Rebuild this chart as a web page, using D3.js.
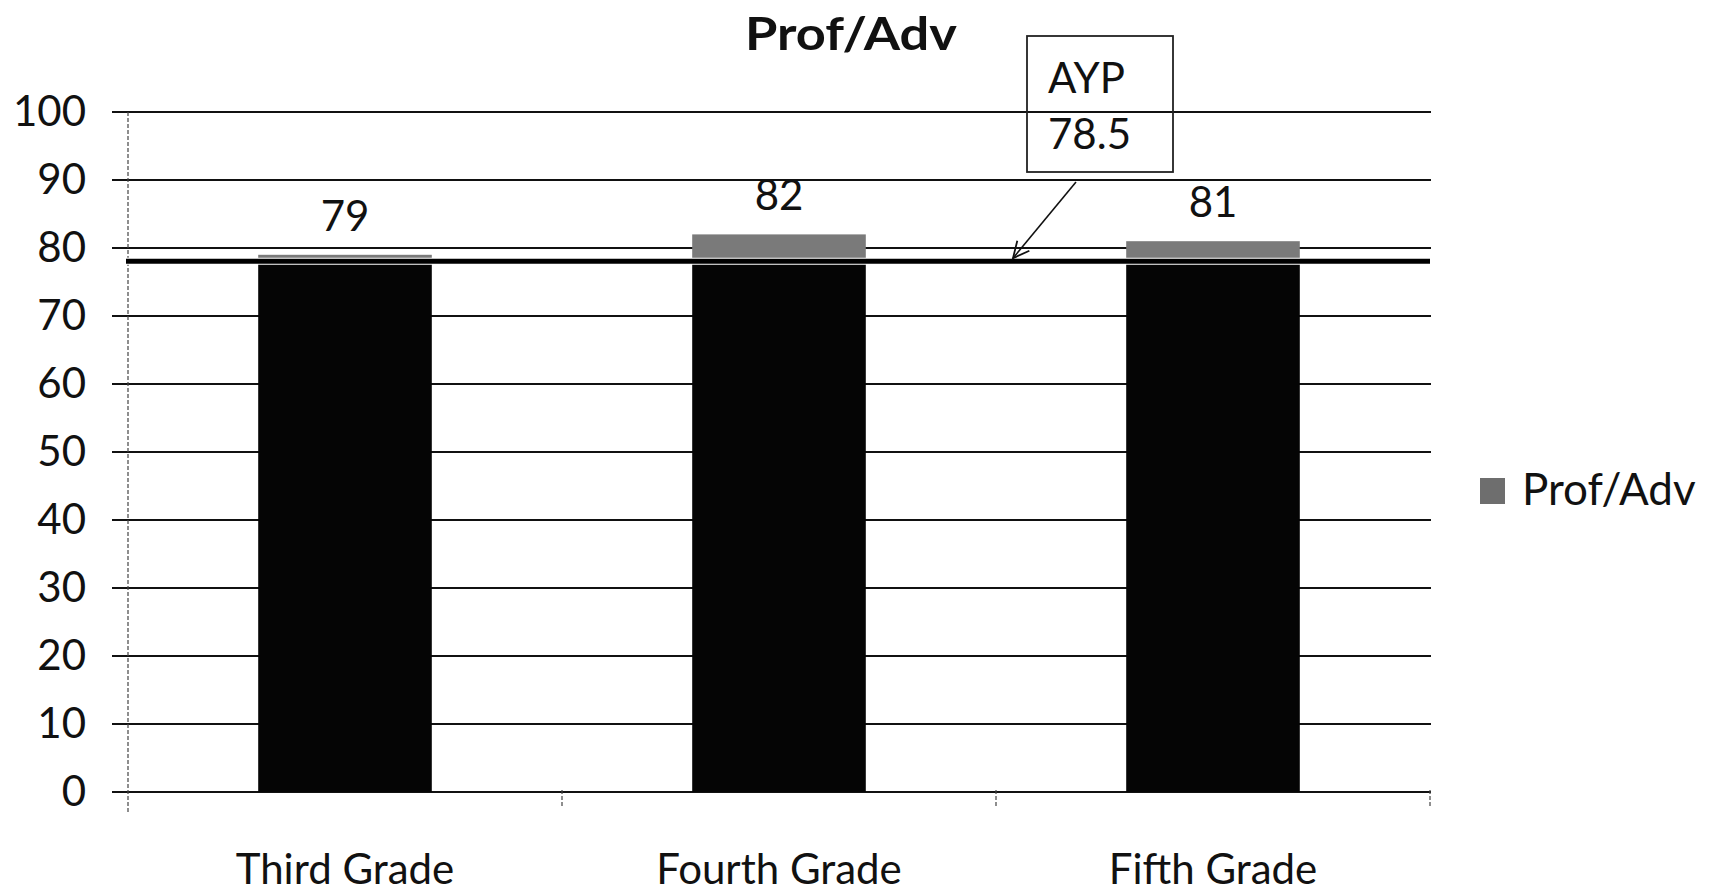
<!DOCTYPE html>
<html>
<head>
<meta charset="utf-8">
<script src="https://cdn.jsdelivr.net/npm/d3@7"></script>
<style>
  html, body { margin: 0; padding: 0; background: #fff; }
  svg { display: block; font-family: Lato, "Open Sans", sans-serif; }
</style>
</head>
<body>
<svg id="chart" width="1710" height="893"></svg>
<script>
// ---- data ----
const categories = ["Third Grade", "Fourth Grade", "Fifth Grade"];
const profAdv = [79, 82, 81];
const yTicks = [0, 10, 20, 30, 40, 50, 60, 70, 80, 90, 100];
const aypValue = 78.5;
const aypLabel = ["AYP", "78.5"];
const seriesName = "Prof/Adv";
const chartTitle = "Prof/Adv";

// ---- layout ----
const svg = d3.select("#chart");
const plot = { left: 128, right: 1430, top: 112, bottom: 792 };

const x = d3.scaleBand().domain(categories).range([plot.left, plot.right]).padding(0);
const y = d3.scaleLinear().domain([0, 100]).range([plot.bottom, plot.top]);
const barW = x.bandwidth() * 0.4;

const fontSize = 42;

// gridlines
svg.append("g").selectAll("line").data(yTicks).join("line")
  .attr("x1", plot.left - 16).attr("x2", plot.right + 1)
  .attr("y1", d => y(d)).attr("y2", d => y(d))
  .attr("stroke", "#111").attr("stroke-width", 2);

// y axis (labels)
const yAxis = d3.axisLeft(y).tickValues(yTicks).tickSize(0).tickPadding(0);
const gy = svg.append("g").attr("transform", `translate(${plot.left - 42},0)`).call(yAxis);
gy.select(".domain").remove();
gy.selectAll("text").attr("font-size", fontSize).attr("fill", "#111")
  .attr("font-family", "Lato, sans-serif");

// vertical axis line (dashed, faint)
svg.append("line")
  .attr("x1", plot.left).attr("x2", plot.left)
  .attr("y1", plot.top).attr("y2", plot.bottom + 20)
  .attr("stroke", "#444").attr("stroke-width", 1.2).attr("stroke-dasharray", "4,2");

// x axis category ticks
const xBoundaries = categories.map(c => x(c) + x.bandwidth());
svg.append("g").selectAll("line").data(xBoundaries).join("line")
  .attr("x1", d => d).attr("x2", d => d)
  .attr("y1", plot.bottom - 2).attr("y2", plot.bottom + 14)
  .attr("stroke", "#444").attr("stroke-width", 1.2).attr("stroke-dasharray", "4,2");

// x axis labels
const xAxis = d3.axisBottom(x).tickSize(0).tickPadding(0);
const gx = svg.append("g").attr("transform", `translate(0,${plot.bottom})`).call(xAxis);
gx.select(".domain").remove();
gx.selectAll("text").attr("font-size", fontSize).attr("fill", "#111")
  .attr("font-family", "Lato, sans-serif")
  .attr("dy", null).attr("y", 92);

// bars: dark body up to AYP, grey section above
const bars = svg.append("g");
bars.selectAll("rect.body").data(categories).join("rect").attr("class", "body")
  .attr("x", d => x(d) + (x.bandwidth() - barW) / 2)
  .attr("width", barW)
  .attr("y", (d, i) => y(Math.min(profAdv[i], aypValue)))
  .attr("height", (d, i) => y(0) - y(Math.min(profAdv[i], aypValue)))
  .attr("fill", "#050505");
bars.selectAll("rect.top").data(categories).join("rect").attr("class", "top")
  .attr("x", d => x(d) + (x.bandwidth() - barW) / 2)
  .attr("width", barW)
  .attr("y", (d, i) => y(profAdv[i]))
  .attr("height", (d, i) => Math.max(0, y(aypValue) - y(profAdv[i])))
  .attr("fill", "#7a7a7a");

// value labels
svg.append("g").selectAll("text").data(categories).join("text")
  .attr("x", d => x(d) + x.bandwidth() / 2)
  .attr("y", (d, i) => y(profAdv[i]) - 24)
  .attr("text-anchor", "middle")
  .attr("font-size", fontSize).attr("fill", "#111")
  .text((d, i) => profAdv[i]);

// AYP line (with a thin white halo), drawn just under the AYP level
const aypY = y(aypValue) + 3;
svg.append("line")
  .attr("x1", plot.left - 2).attr("x2", plot.right)
  .attr("y1", aypY).attr("y2", aypY)
  .attr("stroke", "#fff").attr("stroke-width", 7);
svg.append("line")
  .attr("x1", plot.left - 2).attr("x2", plot.right)
  .attr("y1", aypY).attr("y2", aypY)
  .attr("stroke", "#000").attr("stroke-width", 5);

// AYP callout box
const box = { x: 1027, y: 36, w: 146, h: 136 };
svg.append("rect")
  .attr("x", box.x).attr("y", box.y).attr("width", box.w).attr("height", box.h)
  .attr("fill", "none").attr("stroke", "#222").attr("stroke-width", 1.8);
svg.append("g").selectAll("text").data(aypLabel).join("text")
  .attr("x", box.x + 21)
  .attr("y", (d, i) => box.y + 57 + i * 56)
  .attr("font-size", fontSize).attr("fill", "#111")
  .text(d => d);

// arrow from box to AYP line
const ax1 = 1076, ay1 = 182, ax2 = 1013, ay2 = aypY - 3;
svg.append("line")
  .attr("x1", ax1).attr("y1", ay1).attr("x2", ax2).attr("y2", ay2)
  .attr("stroke", "#111").attr("stroke-width", 1.6);
const ang = Math.atan2(ay2 - ay1, ax2 - ax1);
const hl = 18, ha = 0.45;
const head = [
  [ax2 - hl * Math.cos(ang - ha), ay2 - hl * Math.sin(ang - ha)],
  [ax2, ay2],
  [ax2 - hl * Math.cos(ang + ha), ay2 - hl * Math.sin(ang + ha)]
];
svg.append("path").attr("d", d3.line()(head))
  .attr("fill", "none").attr("stroke", "#111").attr("stroke-width", 1.8);

// title
svg.append("text")
  .attr("x", 851).attr("y", 50)
  .attr("text-anchor", "middle")
  .attr("font-size", 46).attr("font-weight", "bold").attr("fill", "#111")
  .attr("textLength", 212).attr("lengthAdjust", "spacingAndGlyphs")
  .text(chartTitle);

// legend
const lg = svg.append("g").attr("transform", "translate(1480,478)");
lg.append("rect").attr("width", 25).attr("height", 26).attr("fill", "#6e6e6e");
lg.append("text").attr("x", 42).attr("y", 27)
  .attr("font-size", 44).attr("fill", "#111").text(seriesName);
</script>
</body>
</html>
